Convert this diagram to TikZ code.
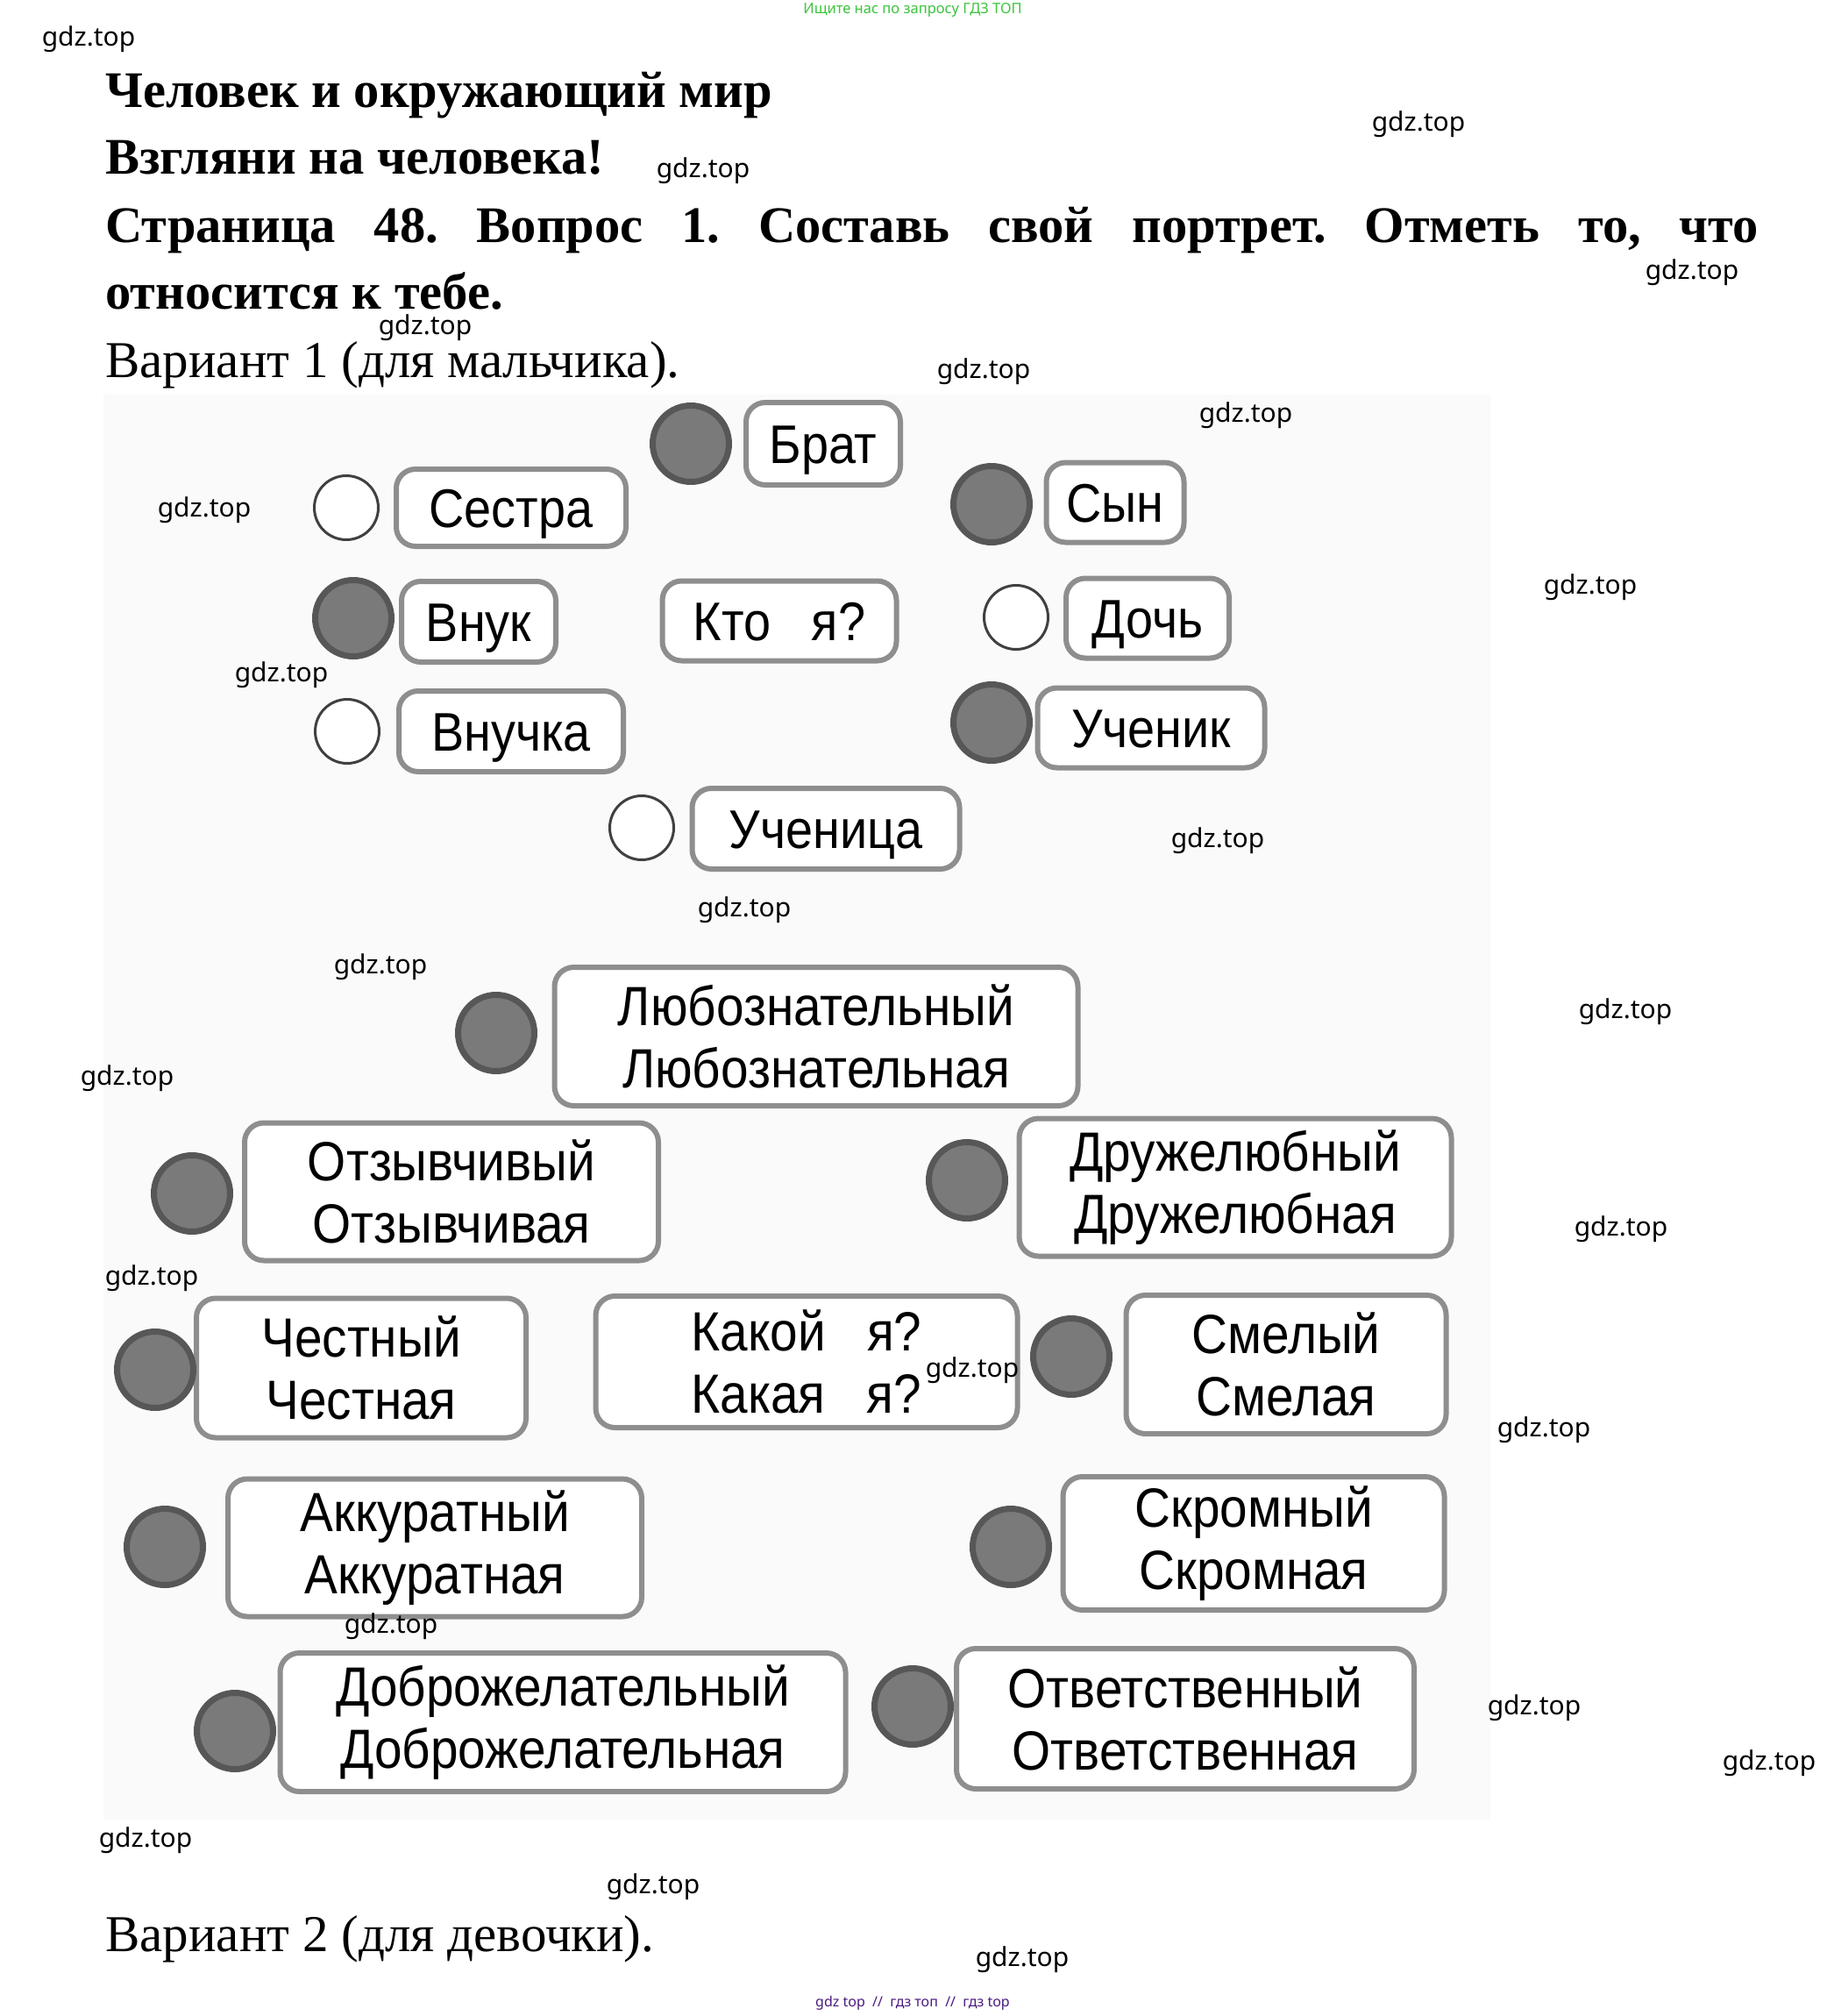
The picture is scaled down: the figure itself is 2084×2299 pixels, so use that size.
\documentclass[tikz,border=0pt]{standalone}
\usepackage{fontspec}
\setmainfont{Liberation Serif}
\newfontfamily\boxfont[FakeStretch=0.9]{Liberation Sans}
\newfontfamily\wmfont{Noto Sans}
\definecolor{boxgray}{HTML}{8E8E8E}
\definecolor{cfill}{HTML}{7A7A7A}
\definecolor{cdark}{HTML}{575757}
\definecolor{scanbg}{HTML}{FAFAFA}
\definecolor{wmgreen}{HTML}{3CC43C}
\definecolor{wmpurple}{HTML}{4A1A80}
\begin{document}
\frenchspacing
\begin{tikzpicture}[x=1pt,y=-1pt,
  box/.style={draw=boxgray, line width=6pt, rounded corners=22pt, fill=white,
    font=\boxfont\fontsize{62}{71}\selectfont, align=center, inner sep=0pt},
  sbox/.style={box, text height=44pt, text depth=0pt},
  dbox/.style={box, font=\boxfont\fontsize{63}{71}\selectfont},
  fcirc/.style={circle, draw=cdark, fill=cfill, line width=7pt, minimum size=87pt, inner sep=0pt},
  ecirc/.style={circle, draw=black!75, line width=3pt, minimum size=73pt, inner sep=0pt, fill=white},
  head/.style={anchor=base west, inner sep=0pt, font=\bfseries\fontsize{58.5}{62}\selectfont},
  var/.style={anchor=base west, inner sep=0pt, font=\fontsize{59}{63}\selectfont},
  wm/.style={inner sep=0pt, font=\wmfont\fontsize{30}{34}\selectfont}
]
\useasboundingbox (0,0) rectangle (2084,2299);
\fill[white] (0,0) rectangle (2084,2299);
\fill[scanbg] (118,450) rectangle (1700,2075);

% header
\node[inner sep=0pt, font=\wmfont\fontsize{16.5}{18}\selectfont, text=wmgreen] (top) at (1041,11) {Ищите нас по запросу ГДЗ ТОП};
\node[head] (t1) at (120,122) {Человек и окружающий мир};
\node[head] (t2) at (120,198) {Взгляни на человека!};
\node[head] (t3) at (120,276) {\makebox[1886pt][s]{Страница 48. Вопрос 1. Составь свой портрет. Отметь то, что}};
\node[head] (t4) at (120,352) {относится к тебе.};
\node[var] (v1) at (120,430) {Вариант 1 (для мальчика).};
\node[var] (v2) at (120,2225) {Вариант 2 (для девочки).};
\node[inner sep=0pt, font=\wmfont\fontsize{16}{18}\selectfont, text=wmpurple] (bot) at (1041,2284) {gdz top\ \ //\ \ гдз топ\ \ //\ \ гдз top};

% Кто я?
\node[sbox, minimum width=176pt, minimum height=94pt] (brat) at (939,506) {Брат};
\node[fcirc] (cbrat) at (788,506) {};
\node[sbox, minimum width=262pt, minimum height=88pt] (sestra) at (583,579) {Сестра};
\node[ecirc] (csestra) at (395,579) {};
\node[sbox, minimum width=157pt, minimum height=91pt] (syn) at (1272,573) {Сын};
\node[fcirc] (csyn) at (1131,575) {};
\node[sbox, minimum width=176pt, minimum height=92pt] (vnuk) at (546,709) {Внук};
\node[fcirc] (cvnuk) at (403,705) {};
\node[sbox, minimum width=267pt, minimum height=91pt] (kto) at (889,708) {Кто\ \ \ я?};
\node[sbox, minimum width=186pt, minimum height=91pt] (doch) at (1309,705) {Дочь};
\node[ecirc] (cdoch) at (1159,704) {};
\node[sbox, minimum width=256pt, minimum height=92pt] (vnuchka) at (583,834) {Внучка};
\node[ecirc] (cvnuchka) at (396,834) {};
\node[sbox, minimum width=259pt, minimum height=91pt] (uchenik) at (1313,830) {Ученик};
\node[fcirc] (cuchenik) at (1131,824) {};
\node[sbox, minimum width=305pt, minimum height=92pt] (uchenica) at (942,945) {Ученица};
\node[ecirc] (cuchenica) at (732,944) {};

% Какой я?
\node[dbox, minimum width=597pt, minimum height=158pt] (lyub) at (931,1182) {Любознательный\\Любознательная};
\node[fcirc] (clyub) at (566,1178) {};
\node[dbox, minimum width=472pt, minimum height=157pt] (otz) at (515,1359) {Отзывчивый\\Отзывчивая};
\node[fcirc] (cotz) at (219,1361) {};
\node[dbox, minimum width=493pt, minimum height=157pt] (druzh) at (1409,1354) {Дружелюбный\\Дружелюбная};
\node[fcirc] (cdruzh) at (1103,1346) {};
\node[dbox, minimum width=376pt, minimum height=159pt] (chest) at (412,1560) {Честный\\Честная};
\node[fcirc] (cchest) at (177,1562) {};
\node[dbox, minimum width=481pt, minimum height=150pt] (kakoy) at (920,1553) {Какой\ \ \ я?\\Какая\ \ \ я?};
\node[dbox, minimum width=365pt, minimum height=158pt] (smel) at (1467,1556) {Смелый\\Смелая};
\node[fcirc] (csmel) at (1222,1547) {};
\node[dbox, minimum width=472pt, minimum height=157pt] (akk) at (496,1765) {Аккуратный\\Аккуратная};
\node[fcirc] (cakk) at (188,1764) {};
\node[dbox, minimum width=435pt, minimum height=152pt] (skrom) at (1430,1760) {Скромный\\Скромная};
\node[fcirc] (cskrom) at (1153,1764) {};
\node[dbox, minimum width=645pt, minimum height=158pt] (dobro) at (642,1964) {Доброжелательный\\Доброжелательная};
\node[fcirc] (cdobro) at (268,1974) {};
\node[dbox, minimum width=522pt, minimum height=160pt] (otv) at (1352,1960) {Ответственный\\Ответственная};
\node[fcirc] (cotv) at (1041,1946) {};

% watermarks
\node[wm] (w1) at (101,45) {gdz.top};
\node[wm] (w2) at (1618,142) {gdz.top};
\node[wm] (w3) at (802,195) {gdz.top};
\node[wm] (w4) at (1930,311) {gdz.top};
\node[wm] (w5) at (485,374) {gdz.top};
\node[wm] (w6) at (1122,424) {gdz.top};
\node[wm] (w7) at (1421,474) {gdz.top};
\node[wm] (w8) at (233,582) {gdz.top};
\node[wm] (w9) at (1814,670) {gdz.top};
\node[wm] (w10) at (321,770) {gdz.top};
\node[wm] (w11) at (1389,959) {gdz.top};
\node[wm] (w12) at (849,1038) {gdz.top};
\node[wm] (w13) at (434,1103) {gdz.top};
\node[wm] (w14) at (1854,1154) {gdz.top};
\node[wm] (w15) at (145,1230) {gdz.top};
\node[wm] (w16) at (1849,1402) {gdz.top};
\node[wm] (w17) at (173,1458) {gdz.top};
\node[wm] (w18) at (1109,1563) {gdz.top};
\node[wm] (w19) at (1761,1631) {gdz.top};
\node[wm] (w20) at (446,1855) {gdz.top};
\node[wm] (w21) at (1750,1948) {gdz.top};
\node[wm] (w22) at (2018,2011) {gdz.top};
\node[wm] (w23) at (166,2099) {gdz.top};
\node[wm] (w24) at (745,2152) {gdz.top};
\node[wm] (w25) at (1166,2235) {gdz.top};
\end{tikzpicture}
\end{document}
